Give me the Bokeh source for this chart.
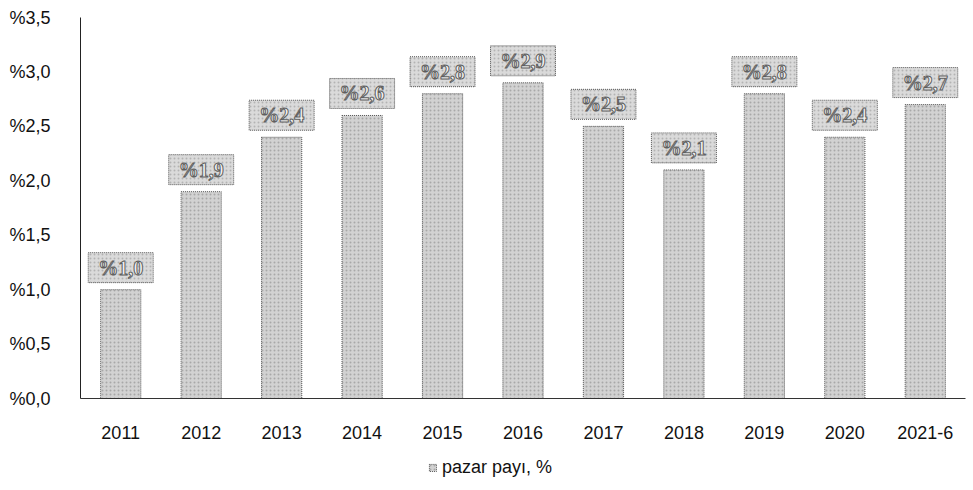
from bokeh.plotting import figure
from bokeh.layouts import column
from bokeh.models import ColumnDataSource, LabelSet, FixedTicker, CustomJSTickFormatter, Legend, LegendItem, Range1d
from bokeh.embed import file_html
from bokeh.resources import INLINE

years = ["2011", "2012", "2013", "2014", "2015", "2016", "2017", "2018", "2019", "2020", "2021-6"]
share = [1.0, 1.9, 2.4, 2.6, 2.8, 2.9, 2.5, 2.1, 2.8, 2.4, 2.7]
y_ticks = [0.0, 0.5, 1.0, 1.5, 2.0, 2.5, 3.0, 3.5]
series_name = "pazar payı, %"

Y_MAX = 3.5
FRAME_H = 381  # px height of the plotting frame
BOX_GAP_PX = 22  # box centre above bar top, in px
labels = ["%" + f"{v:.1f}".replace(".", ",") for v in share]
box_y = [v + BOX_GAP_PX * Y_MAX / FRAME_H for v in share]
src = ColumnDataSource(dict(x=years, top=share, lab=labels, by=box_y))

FONT = "Liberation Sans"
BAR_STYLE = dict(fill_color="#d2d2d2", line_color="#555555", line_dash="1 1", line_width=1,
                 hatch_pattern="dot", hatch_color="#8c8c8c", hatch_scale=4, hatch_alpha=0.6)

p = figure(x_range=years, y_range=Range1d(0, Y_MAX), width=968, height=445,
           output_backend="svg", toolbar_location=None,
           min_border_left=80, min_border_right=3, min_border_top=17, min_border_bottom=47)
p.outline_line_color = None
p.xgrid.grid_line_color = None
p.ygrid.grid_line_color = None
p.background_fill_color = "white"

r = p.vbar(x="x", top="top", width=0.5, source=src, **BAR_STYLE)

p.rect(x="x", y="by", width=65, height=30, width_units="screen", height_units="screen", source=src,
       fill_color="#dadada", line_color="#555555", line_dash="1 1", line_width=1,
       hatch_pattern="dot", hatch_color="#8c8c8c", hatch_scale=4, hatch_alpha=0.5)

ls = LabelSet(x="x", y="by", text="lab", source=src, text_align="center", text_baseline="middle",
              text_font=FONT, text_font_size="20px", text_font_style="bold",
              text_color="#f4f4f4", text_outline_color="#5e5e5e")
p.add_layout(ls)

p.yaxis.ticker = FixedTicker(ticks=y_ticks)
p.yaxis.formatter = CustomJSTickFormatter(code='return "%" + tick.toFixed(1).replace(".", ",");')
for ax in (p.xaxis[0], p.yaxis[0]):
    ax.major_tick_line_color = None
    ax.minor_tick_line_color = None
    ax.major_label_text_font = FONT
    ax.major_label_text_font_size = "18px"
    ax.major_label_text_color = "#111111"
p.yaxis.axis_line_color = "#222222"
p.xaxis.axis_line_color = "#333333"
p.yaxis.major_label_standoff = 24
p.xaxis.major_label_standoff = 21

# legend strip below the chart (its one bar lies outside the visible range)
lg = figure(width=968, height=36, x_range=Range1d(0, 1), y_range=Range1d(0, 1),
            output_backend="svg", toolbar_location=None,
            min_border_left=0, min_border_right=0, min_border_top=0, min_border_bottom=0)
lg.axis.visible = False
lg.grid.visible = False
lg.outline_line_color = None
lr = lg.vbar(x=[-10], top=[-5], bottom=[-6], width=0.5, **BAR_STYLE)
legend = Legend(items=[LegendItem(label=series_name, renderers=[lr])], location=(348, 3),
                orientation="horizontal",
                label_text_font=FONT, label_text_font_size="18px", label_text_color="#111111",
                glyph_width=9, glyph_height=9, border_line_color=None, padding=4, margin=0,
                label_standoff=5, background_fill_alpha=0)
lg.add_layout(legend)

open("out.html", "w").write(file_html(column(p, lg, spacing=0), INLINE))
